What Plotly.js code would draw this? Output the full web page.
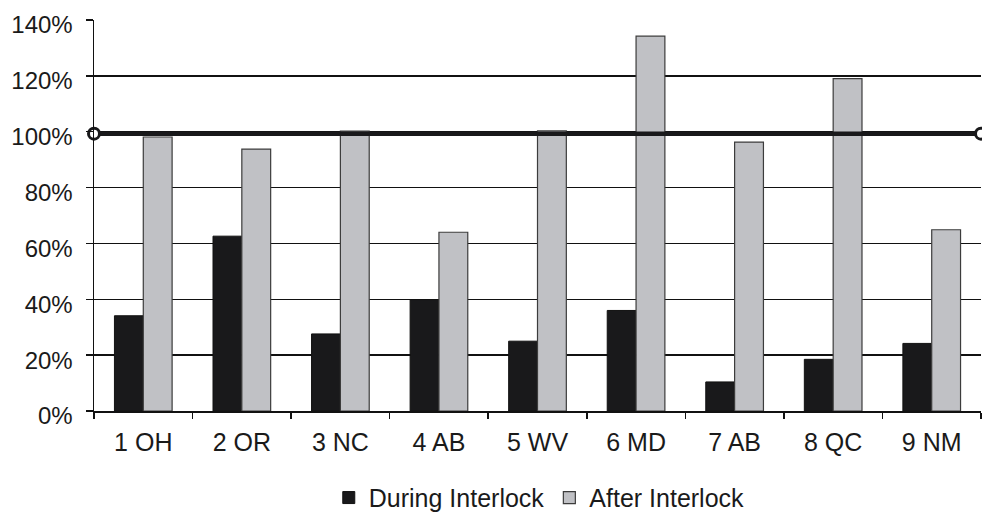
<!DOCTYPE html>
<html>
<head>
<meta charset="utf-8">
<script src="https://cdn.plot.ly/plotly-3.0.1.min.js"></script>
<style>html,body{margin:0;padding:0;background:#fff;}#chart{width:982px;height:512px;}</style>
</head>
<body>
<div id="chart"></div>
<script>
var categories = ["1 OH", "2 OR", "3 NC", "4 AB", "5 WV", "6 MD", "7 AB", "8 QC", "9 NM"];
var duringInterlock = [34.1, 62.6, 27.6, 39.9, 25.0, 36.0, 10.4, 18.5, 24.2];
var afterInterlock = [98.1, 93.8, 100.2, 64.0, 100.3, 134.2, 96.3, 119.0, 64.9];
var refLineX = [0, 1];
var refLineY = [99.3, 99.3];
var yTickVals = [0, 20, 40, 60, 80, 100, 120, 140];
var yTickLabels = ["0%", "20%", "40%", "60%", "80%", "100%", "120%", "140%"];

var font = "'Liberation Sans', Arial, sans-serif";

var traces = [
  {
    type: "bar", name: "During Interlock", x: categories, y: duringInterlock,
    marker: {color: "#19191b", line: {color: "#111111", width: 1}}
  },
  {
    type: "bar", name: "After Interlock", x: categories, y: afterInterlock,
    marker: {color: "#c0c1c5", line: {color: "#3c3c3c", width: 1.2}}
  },
  {
    type: "scatter", mode: "lines+markers", x: refLineX, y: refLineY,
    xaxis: "x2", showlegend: false, cliponaxis: false, hoverinfo: "skip",
    line: {color: "#19191b", width: 4.5},
    marker: {symbol: "circle", size: 11, color: "#ffffff", line: {color: "#19191b", width: 3}}
  }
];

var layout = {
  width: 982, height: 512,
  margin: {l: 94, r: 1, t: 19.5, b: 101, pad: 0, autoexpand: false},
  paper_bgcolor: "#ffffff", plot_bgcolor: "#ffffff",
  font: {family: font, size: 24, color: "#1a1a1a"},
  barmode: "group", bargap: 0.415, bargroupgap: 0,
  showlegend: true,
  legend: {orientation: "h", x: 0.502, xanchor: "center", y: -0.222, yanchor: "middle",
           font: {family: font, size: 25, color: "#1a1a1a"}, itemclick: false},
  xaxis: {
    type: "category", showgrid: false, zeroline: false,
    showline: true, linecolor: "#111111", linewidth: 1.5,
    ticks: "outside", tickson: "boundaries", ticklen: 6, tickcolor: "#111111", tickwidth: 1.5,
    tickfont: {family: font, size: 25, color: "#1a1a1a"}, ticklabelstandoff: 8,
    fixedrange: true
  },
  xaxis2: {overlaying: "x", range: [0, 1], visible: false, fixedrange: true},
  yaxis: {
    range: [0, 140], tickmode: "array", tickvals: yTickVals, ticktext: yTickLabels,
    showgrid: true, gridcolor: "#111111", gridwidth: 1.3, zeroline: false,
    showline: true, linecolor: "#111111", linewidth: 1.5,
    ticks: "outside", ticklen: 7, tickcolor: "#111111", tickwidth: 1.5,
    tickfont: {family: font, size: 24, color: "#1a1a1a"}, ticklabelstandoff: 8,
    ticklabelshift: 5,
    fixedrange: true
  }
};

Plotly.newPlot("chart", traces, layout, {displayModeBar: false, staticPlot: true});
</script>
</body>
</html>
